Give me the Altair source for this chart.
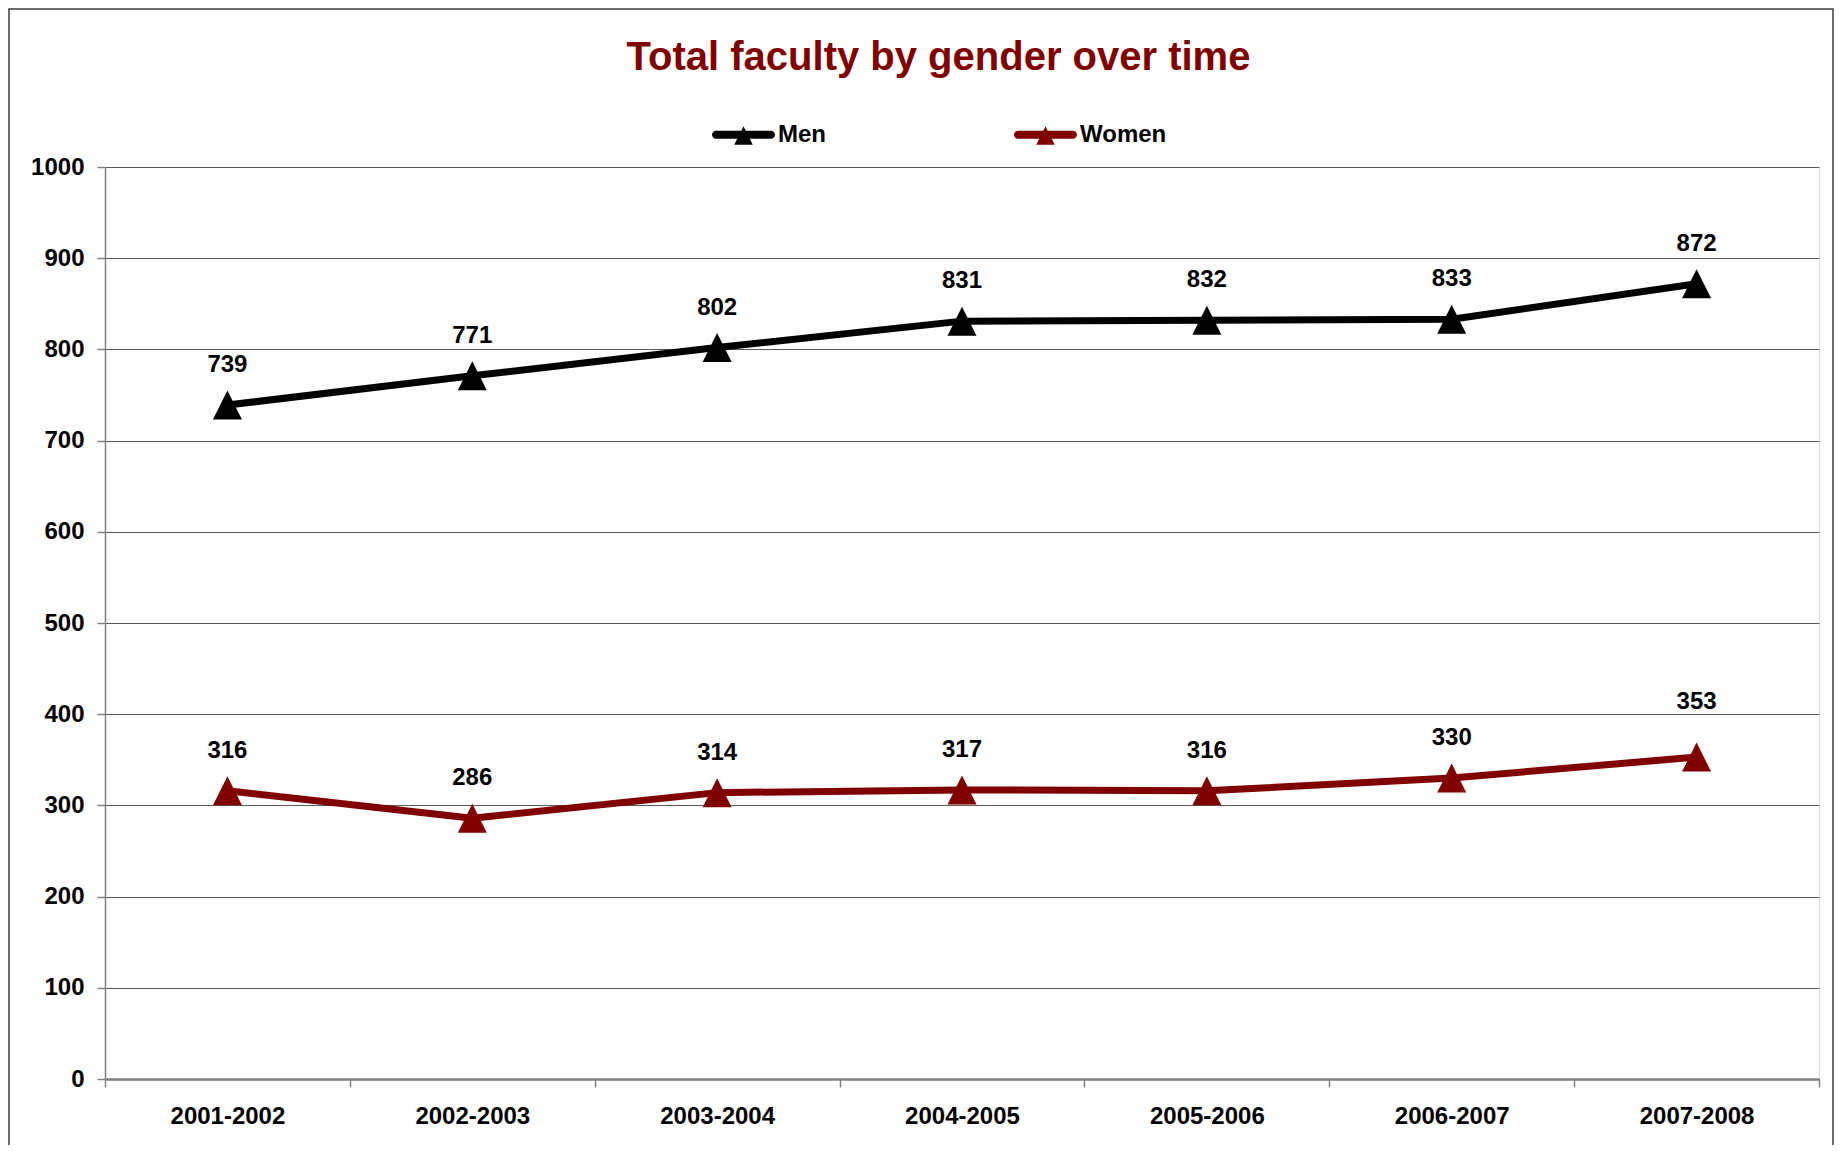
import altair as alt
import pandas as pd

# ---- data ----
years = ["2001-2002", "2002-2003", "2003-2004", "2004-2005",
         "2005-2006", "2006-2007", "2007-2008"]
men = [739, 771, 802, 831, 832, 833, 872]
women = [316, 286, 314, 317, 316, 330, 353]
series = ["Men", "Women"]
series_colors = ["#000000", "#800000"]
y_ticks = [0, 100, 200, 300, 400, 500, 600, 700, 800, 900, 1000]
title_text = "Total faculty by gender over time"

rows = []
for yr, m, w in zip(years, men, women):
    rows.append({"year": yr, "gender": "Men", "count": m})
    rows.append({"year": yr, "gender": "Women", "count": w})
df = pd.DataFrame(rows)

FONT = "Liberation Sans, Arial, Helvetica, sans-serif"
TRI = "M-1,1 L0,-1 L1,1 Z"
LEG = ("M-0.873,-0.127 L0.873,-0.127 A0.127,0.127 0 0 1 0.873,0.127 "
       "L-0.873,0.127 A0.127,0.127 0 0 1 -0.873,-0.127 Z "
       "M-0.295,0.317 L0,-0.27 L0.295,0.317 Z")

W, H = 1714, 912

x_enc = alt.X(
    "year:N", sort=years, bandPosition=0.5,
    scale=alt.Scale(type="band", paddingInner=0, paddingOuter=0),
    axis=alt.Axis(title=None, labelAngle=0, tickBand="extent", grid=False,
                  tickSize=8, tickColor="#808080", tickWidth=1.5,
                  domainColor="#808080", domainWidth=2.5,
                  labelPadding=17, labelFontSize=24, labelFont=FONT,
                  labelFontWeight="bold", labelColor="#000000"),
)
y_enc = alt.Y(
    "count:Q",
    scale=alt.Scale(domain=[0, 1000], nice=False, zero=True),
    axis=alt.Axis(title=None, values=y_ticks, format="d", grid=True,
                  gridColor="#5a5a5a", gridWidth=1, tickSize=8,
                  tickColor="#808080", tickWidth=1.5,
                  domainColor="#808080", domainWidth=1.5, labelPadding=13,
                  labelFontSize=24, labelFont=FONT, labelFontWeight="bold",
                  labelColor="#000000"),
)

base = alt.Chart(df)

lines = base.mark_line(strokeWidth=7, strokeJoin="round").encode(
    x=x_enc, y=y_enc,
    color=alt.Color("gender:N", scale=alt.Scale(domain=series, range=series_colors),
                    legend=None),
    detail="gender:N",
)

points = base.mark_point(shape=TRI, filled=True, size=841, opacity=1,
                         strokeWidth=0).encode(
    x=x_enc, y=y_enc,
    color=alt.Color(
        "gender:N", scale=alt.Scale(domain=series, range=series_colors),
        legend=alt.Legend(
            title=None, orient="none", direction="horizontal",
            legendX=607, legendY=-64, padding=0,
            symbolType=LEG, symbolSize=3969, symbolStrokeWidth=0,
            symbolOpacity=1, labelOffset=3, columnPadding=188,
            labelFont=FONT, labelFontSize=24, labelFontWeight="bold",
            labelColor="#000000", labelLimit=300,
        ),
    ),
)

is_last_women = (alt.datum.gender == "Women") & (alt.datum.year == "2007-2008")

labels = base.mark_text(dy=-33, baseline="alphabetic", align="center",
                        fontSize=24, font=FONT, fontWeight="bold",
                        color="#000000").encode(
    x=x_enc, y=y_enc, text="count:Q",
).transform_filter(~is_last_women)

labels_raised = base.mark_text(dy=-48, baseline="alphabetic", align="center",
                               fontSize=24, font=FONT, fontWeight="bold",
                               color="#000000").encode(
    x=x_enc, y=y_enc, text="count:Q",
).transform_filter(is_last_women)

frame_data = alt.Data(values=[{"k": 1}])
border = alt.Chart(frame_data).mark_rect(
    filled=False, stroke="#3c3c3c", strokeWidth=1.5
).encode(
    x=alt.value(-96), x2=alt.value(1728),
    y=alt.value(-158), y2=alt.value(1100),
)

title = alt.Chart(alt.Data(values=[{"t": title_text}])).mark_text(
    font=FONT, fontSize=40, fontWeight="bold", color="#800000",
    align="center", baseline="alphabetic",
).encode(
    x=alt.value(833.5), y=alt.value(-97), text="t:N",
)

chart = alt.layer(border, lines, points, labels, labels_raised, title).resolve_scale(
    color="independent"
).properties(
    width=W, height=H,
    autosize=alt.AutoSizeParams(type="none"),
    padding={"left": 97, "top": 159, "right": 16, "bottom": 66},
).configure_view(stroke=None).configure(background="#ffffff")

chart.save("out.html", embed_options={"renderer": "svg", "actions": False})
